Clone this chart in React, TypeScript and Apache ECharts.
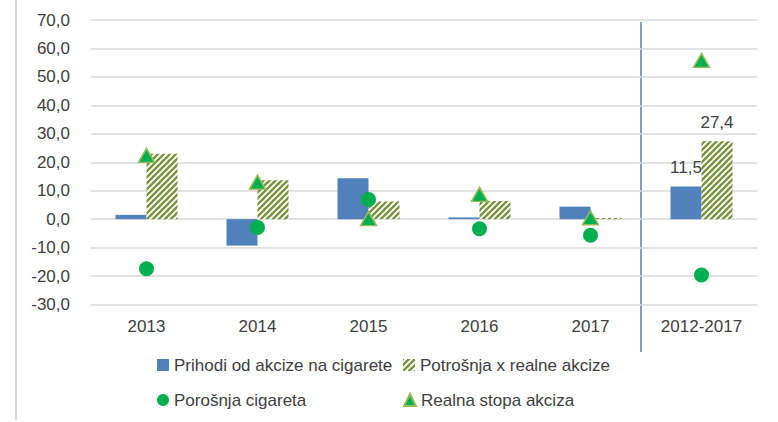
import React, { useEffect, useRef } from 'react';
import * as echarts from 'echarts';

const categories = ['2013', '2014', '2015', '2016', '2017', '2012-2017'];
const prihodi = [1.5, -9.3, 14.4, 0.6, 4.4, 11.5];
const potrosnja = [23.0, 13.7, 6.2, 6.4, 0.4, 27.4];
const porosnja = [-17.4, -2.9, 6.9, -3.4, -5.7, -19.6];
const realna = [22.4, 13.0, 0.2, 8.7, 0.5, 55.8];
const labelledIndex = 5;

const seriesNames = [
  'Prihodi od akcize na cigarete',
  'Potrošnja x realne akcize',
  'Porošnja cigareta',
  'Realna stopa akcizа'.replace('а', 'a'),
];

const FONT = "'Liberation Sans', Arial, sans-serif";
const TXT = '#404040';
const fmt = (v: number) => v.toFixed(1).replace('.', ',');

function makeHatch() {
  const c = document.createElement('canvas');
  c.width = 6;
  c.height = 6;
  const ctx = c.getContext('2d')!;
  ctx.fillStyle = '#ffffff';
  ctx.fillRect(0, 0, 6, 6);
  ctx.strokeStyle = '#77933C';
  ctx.lineWidth = 2.3;
  ctx.lineCap = 'square';
  const segs = [
    [-3, 3, 3, -3],
    [0, 6, 6, 0],
    [3, 9, 9, 3],
  ];
  for (const s of segs) {
    ctx.beginPath();
    ctx.moveTo(s[0], s[1]);
    ctx.lineTo(s[2], s[3]);
    ctx.stroke();
  }
  return { image: c, repeat: 'repeat', imageWidth: 6, imageHeight: 6 } as any;
}

export default function App() {
  const ref = useRef<HTMLDivElement>(null);
  useEffect(() => {
    if (!ref.current) return;
    const chart = echarts.init(ref.current, undefined, { renderer: 'svg' });
    const hatch = makeHatch();
    const barLabel = (color: string) => ({
      show: true,
      position: 'top',
      distance: 10,
      color,
      fontFamily: FONT,
      fontSize: 17,
      formatter: (p: any) => fmt(p.value),
    });
    const legendBase = {
      itemWidth: 12,
      itemHeight: 12,
      itemGap: 0,
      padding: 0,
      textStyle: { color: TXT, fontFamily: FONT, fontSize: 17, lineHeight: 18, padding: [0, 0, 0, 0] },
    };
    chart.setOption({
      animation: false,
      backgroundColor: '#ffffff',
      grid: { left: 91, right: 21, top: 20, bottom: 117.5, containLabel: false },
      xAxis: {
        type: 'category',
        data: categories,
        axisLine: { show: false },
        axisTick: { show: false },
        axisLabel: { color: TXT, fontFamily: FONT, fontSize: 17, margin: 13 },
      },
      yAxis: {
        type: 'value',
        min: -30,
        max: 70,
        interval: 10,
        axisLine: { show: false },
        axisTick: { show: false },
        splitLine: { lineStyle: { color: '#d9d9d9', width: 1.5 } },
        axisLabel: { color: TXT, fontFamily: FONT, fontSize: 17, margin: 21, formatter: fmt },
      },
      legend: [
        { ...legendBase, data: [{ name: seriesNames[0], icon: 'rect' }], left: 157, top: 356 },
        { ...legendBase, data: [{ name: seriesNames[1], icon: 'rect' }], left: 403, top: 356 },
        { ...legendBase, data: [{ name: seriesNames[2], icon: 'circle' }], left: 157, top: 391 },
        { ...legendBase, data: [{ name: seriesNames[3], icon: 'triangle' }], left: 403, top: 391 },
      ],
      series: [
        {
          name: seriesNames[0],
          type: 'bar',
          barWidth: 31,
          barGap: '0%',
          itemStyle: { color: '#4F81BD' },
          data: prihodi.map((v, i) =>
            i === labelledIndex ? { value: v, label: barLabel(TXT) } : v
          ),
        },
        {
          name: seriesNames[1],
          type: 'bar',
          barWidth: 31,
          barGap: '0%',
          itemStyle: { color: hatch },
          data: potrosnja.map((v, i) =>
            i === labelledIndex ? { value: v, label: barLabel(TXT) } : v
          ),
        },
        {
          name: seriesNames[2],
          type: 'scatter',
          symbol: 'circle',
          symbolSize: 15,
          z: 3,
          itemStyle: { color: '#00B050', opacity: 1 },
          data: porosnja,
        },
        {
          name: seriesNames[3],
          type: 'scatter',
          symbol: 'triangle',
          symbolSize: [16, 14],
          z: 4,
          itemStyle: { color: '#00B050', borderColor: '#9BBB59', borderWidth: 1.5, opacity: 1 },
          data: realna,
        },
      ],
      graphic: [
        {
          type: 'line',
          shape: { x1: 16, y1: 0, x2: 16, y2: 420 },
          style: { stroke: '#d9d9d9', lineWidth: 2 },
          silent: true,
        },
        {
          type: 'line',
          shape: { x1: 641, y1: 22, x2: 641, y2: 352 },
          style: { stroke: '#4F81BD', lineWidth: 1.5 },
          silent: true,
        },
      ],
    });
    return () => chart.dispose();
  }, []);
  return (
    <div
      ref={ref}
      style={{ position: 'absolute', left: 0, top: 0, width: 778, height: 422 }}
    />
  );
}
